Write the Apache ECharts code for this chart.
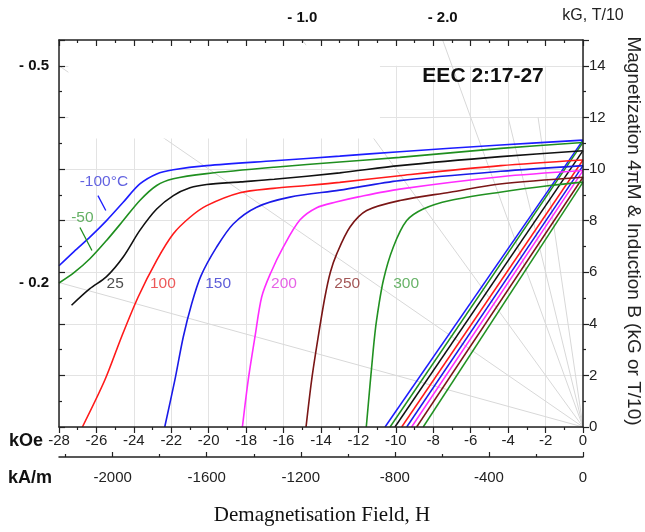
<!DOCTYPE html>
<html><head><meta charset="utf-8">
<script src="https://cdn.jsdelivr.net/npm/echarts@6/dist/echarts.min.js"></script>
<style>html,body{margin:0;padding:0;background:#fff}#c{width:645px;height:532px}</style>
</head><body><div id="c"></div>
<script>
// ---- data (H in kOe, 4piM / B in kG) ----
const temps = ['-100°C', '-50', '25', '100', '150', '200', '250', '300'];
const curveTm100 = [[-28,6.25],[-27.2,6.8],[-26.35,7.36],[-25.46,8.0],[-24.57,8.71],[-23.68,9.42],[-22.78,9.81],[-21.89,9.97],[-20.11,10.13],[-16.5,10.32],[-13,10.5],[-9.8,10.67],[-4.4,10.93],[0,11.12]];
const curveTm50 = [[-28,5.58],[-27.2,5.98],[-26.35,6.52],[-25.46,7.23],[-24.57,8.0],[-23.68,8.78],[-22.78,9.36],[-21.89,9.62],[-20.11,9.82],[-16.5,10.07],[-13,10.27],[-9.8,10.45],[-4.4,10.8],[0,11.03]];
const curveT25 = [[-27.33,4.72],[-26.35,5.36],[-25.46,5.83],[-24.57,6.59],[-23.68,7.62],[-22.78,8.45],[-21.89,8.97],[-21.0,9.27],[-20.11,9.40],[-18.3,9.5],[-16.5,9.6],[-13,9.85],[-9.8,10.13],[-4.4,10.48],[0,10.71]];
const curveT100 = [[-26.75,0],[-25.55,1.82],[-24.66,3.49],[-23.77,5.04],[-22.78,6.46],[-21.89,7.49],[-21.0,8.13],[-20.11,8.58],[-18.33,9.08],[-16.55,9.25],[-14.77,9.36],[-13,9.48],[-9.8,9.74],[-4.4,10.13],[0,10.35]];
const curveT150 = [[-22.35,0],[-21.81,1.82],[-21.36,3.49],[-20.91,4.78],[-20.42,5.85],[-19.58,6.97],[-18.69,7.87],[-17.44,8.52],[-15.66,8.91],[-13,9.18],[-9.8,9.55],[-4.4,9.91],[0,10.13]];
const curveT200 = [[-18.2,0],[-17.89,1.82],[-17.53,3.49],[-17.17,5.04],[-16.7,5.95],[-16.02,6.97],[-15.13,8.02],[-14.23,8.5],[-13.2,8.72],[-12,8.92],[-9.8,9.22],[-4.4,9.7],[0,9.94]];
const curveT250 = [[-14.8,0],[-14.5,1.82],[-14.15,3.49],[-13.8,5.0],[-13.5,6.0],[-13.16,6.71],[-12.45,7.75],[-11.56,8.39],[-9.78,8.78],[-7.11,9.10],[-4.44,9.42],[0,9.68]];
const curveT300 = [[-11.58,0],[-11.21,2.98],[-11.03,4.14],[-10.67,5.68],[-10.14,6.97],[-9.42,8.0],[-8.54,8.45],[-7.11,8.78],[-4.44,9.10],[-1.76,9.36],[0,9.49]];
const intrinsicCurves = [curveTm100, curveTm50, curveT25, curveT100, curveT150, curveT200, curveT250, curveT300];
// normal (B) curves: straight, from B=0 crossing to remanence at H=0
const bZeroH = [-10.58, -10.31, -10.05, -9.69, -9.42, -9.16, -8.89, -8.54];
const remanence = [11.12, 11.03, 10.71, 10.35, 10.13, 9.94, 9.68, 9.49];
// curve label anchor positions (H, kG)
const labelH = [-25.6, -26.75, -25.0, -22.45, -19.5, -15.98, -12.6, -9.45];
const labelB = [9.5, 8.1, 5.57, 5.57, 5.57, 5.57, 5.57, 5.57];
const leaderM100 = [[-25.92, 8.97], [-25.5, 8.39]];
const leaderM50 = [[-26.88, 7.73], [-26.24, 6.84]];
// load lines (-B/H) and the induction (kG) at which each faint line stops
const loadSlopes = [0.2, 0.5, 1.0, 2.0, 3.0, 5.0];
const loadTopB = [15, 15, 15, 15, 12, 12];
const loadLabelsLeft = [0.5, 0.2];
const loadLabelsTop = [1.0, 2.0];
// kA/m scale
const KAM_PER_KOE = 1000 / (4 * Math.PI);
const kAmLabels = [-2000, -1600, -1200, -800, -400, 0];
const kAmMinor = [-2200, -1800, -1400, -1000, -600, -200];

// ---- styles ----
const lineColors = ['#1c1cff', '#1f8f1f', '#111111', '#ff1a1a', '#1a1ae8', '#ff2cff', '#7a1616', '#219121'];
const textColors = ['#3b3bd8', '#3d9d3d', '#222222', '#e83030', '#3434d0', '#e03ce0', '#8c2e2e', '#44a044'];
const FONT = 'Liberation Sans, Arial, sans-serif';
const AX = '#222';

const chart = echarts.init(document.getElementById('c'), null, {renderer: 'canvas'});

function maskRender(params, api) {
  const p0 = api.coord([api.value(0), api.value(1)]);
  const p1 = api.coord([api.value(2), api.value(3)]);
  return {
    type: 'rect',
    shape: {x: Math.min(p0[0], p1[0]), y: Math.min(p0[1], p1[1]),
            width: Math.abs(p1[0] - p0[0]), height: Math.abs(p1[1] - p0[1])},
    style: {fill: '#ffffff'}
  };
}

const series = [];
// mask over grid lines above 14 kG
series.push({type: 'custom', renderItem: maskRender, silent: true, z: 1,
  dimensions: ['x0', 'y0', 'x1', 'y1'], encode: {x: [0, 2], y: [1, 3]},
  data: [[-28, 14, 0, 15]]});
// load lines
loadSlopes.forEach((s, i) => {
  const endH = Math.max(-28, -loadTopB[i] / s);
  series.push({
    type: 'line', silent: true, z: 2, symbol: 'none', animation: false,
    lineStyle: {color: '#d8d8d8', width: 1}, data: [[0, 0], [endH, -endH * s]]
  });
});
// blank box in upper left
series.push({type: 'custom', renderItem: maskRender, silent: true, z: 3,
  dimensions: ['x0', 'y0', 'x1', 'y1'], encode: {x: [0, 2], y: [1, 3]},
  data: [[-27.5, 11.18, -10.85, 14.8]]});
// B lines
bZeroH.forEach((h, i) => series.push({
  type: 'line', z: 4, symbol: 'none', animation: false,
  lineStyle: {color: lineColors[i], width: 1.5}, data: [[h, 0], [0, remanence[i]]]
}));
// intrinsic curves
intrinsicCurves.forEach((c, i) => series.push({
  type: 'line', z: 4, symbol: 'none', animation: false, smooth: 0.3,
  lineStyle: {color: lineColors[i], width: 1.6}, data: c
}));
// leaders
series.push({type: 'line', z: 4, symbol: 'none', animation: false,
  lineStyle: {color: lineColors[0], width: 1.3}, data: leaderM100});
series.push({type: 'line', z: 4, symbol: 'none', animation: false,
  lineStyle: {color: lineColors[1], width: 1.3}, data: leaderM50});
// curve labels
series.push({type: 'scatter', z: 5, symbolSize: 0, animation: false, silent: true,
  data: temps.map((t, i) => ({name: t, value: [labelH[i], labelB[i]],
    label: {color: textColors[i]}})),
  label: {show: true, position: 'inside', formatter: '{b}', fontSize: 15.5, fontFamily: FONT}
});

const tickStyle = {color: AX, width: 1.2};
const option = {
  animation: false,
  backgroundColor: '#ffffff',
  grid: {left: 59, right: 62, top: 40, bottom: 105},
  xAxis: [
    {type: 'value', position: 'bottom', min: -28, max: 0, interval: 2, z: 6,
     axisLine: {onZero: false, lineStyle: {color: AX, width: 1.5}},
     axisTick: {length: 6, lineStyle: tickStyle},
     minorTick: {show: true, splitNumber: 2, length: 3, lineStyle: tickStyle},
     axisLabel: {color: '#222', fontSize: 15, fontFamily: FONT, margin: 6},
     splitLine: {show: false}},
    {type: 'value', position: 'top', min: -28, max: 0, interval: 2, z: 6,
     axisLine: {onZero: false, lineStyle: {color: AX, width: 1.5}},
     axisTick: {inside: true, length: 6, lineStyle: tickStyle},
     minorTick: {show: true, splitNumber: 2, length: 3, lineStyle: tickStyle},
     axisLabel: {show: false}, splitLine: {show: false}},
    {type: 'value', position: 'bottom', offset: 30, min: -28 * KAM_PER_KOE, max: 0, z: 6,
     axisLine: {onZero: false, lineStyle: {color: AX, width: 1.5}},
     axisTick: {inside: true, length: 5, customValues: kAmLabels, lineStyle: tickStyle},
     axisLabel: {customValues: kAmLabels, formatter: v => String(v), color: '#222',
                 fontSize: 15, fontFamily: FONT, margin: 13},
     splitLine: {show: false}},
    {type: 'value', position: 'bottom', offset: 30, min: -28 * KAM_PER_KOE, max: 0, z: 6,
     axisLine: {show: false, onZero: false},
     axisTick: {inside: true, length: 3, customValues: kAmMinor, lineStyle: tickStyle},
     axisLabel: {show: false}, splitLine: {show: false}},
    {type: 'value', position: 'bottom', min: -28, max: 0, interval: 2, z: 0,
     axisLine: {show: false, onZero: false}, axisTick: {show: false}, axisLabel: {show: false},
     splitLine: {show: true, lineStyle: {color: '#e3e3e3', width: 1}}}
  ],
  yAxis: [
    {type: 'value', position: 'right', min: 0, max: 15, interval: 2, z: 6,
     axisLine: {show: true, onZero: false, lineStyle: {color: AX, width: 1.5}},
     axisTick: {show: true, length: 6, lineStyle: tickStyle},
     minorTick: {show: true, splitNumber: 2, length: 3, lineStyle: tickStyle},
     axisLabel: {color: '#222', fontSize: 15, fontFamily: FONT, margin: 6, showMaxLabel: false},
     splitLine: {show: false}},
    {type: 'value', position: 'left', min: 0, max: 15, interval: 2, z: 6,
     axisLine: {show: true, onZero: false, lineStyle: {color: AX, width: 1.5}},
     axisTick: {show: true, inside: true, length: 6, lineStyle: tickStyle},
     minorTick: {show: true, splitNumber: 2, length: 3, lineStyle: tickStyle},
     axisLabel: {show: false}, splitLine: {show: false}},
    {type: 'value', position: 'right', min: 0, max: 15, interval: 2, z: 0,
     axisLine: {show: false, onZero: false}, axisTick: {show: false}, axisLabel: {show: false},
     splitLine: {show: true, lineStyle: {color: '#e3e3e3', width: 1}}}
  ],
  series: series
};
chart.setOption(option);

// annotations
const toPx = p => chart.convertToPixel({xAxisIndex: 0, yAxisIndex: 0}, p);
const boldTxt = {fontFamily: FONT, fontWeight: 'bold', fontSize: 15, fill: '#111'};
const graphics = [];
loadLabelsLeft.forEach((s, i) => {
  const p = toPx([-28, 28 * s]);
  graphics.push({type: 'text', id: 'll' + i, x: p[0] - 10, y: p[1], z: 10,
    style: Object.assign({text: '- ' + s.toFixed(1), align: 'right', verticalAlign: 'middle'}, boldTxt)});
});
loadLabelsTop.forEach((s, i) => {
  const p = toPx([-15 / s, 15]);
  graphics.push({type: 'text', id: 'lt' + i, x: p[0], y: 18, z: 10,
    style: Object.assign({text: '- ' + s.toFixed(1), align: 'center', verticalAlign: 'middle'}, boldTxt)});
});
const eec = toPx([-5.34, 13.6]);
graphics.push({type: 'text', x: eec[0], y: eec[1], z: 10,
  style: {text: 'EEC 2:17-27', fontFamily: FONT, fontWeight: 'bold', fontSize: 21, fill: '#111',
          align: 'center', verticalAlign: 'middle'}});
graphics.push({type: 'text', x: 593, y: 16, z: 10,
  style: {text: 'kG, T/10', fontFamily: FONT, fontSize: 16, fill: '#222', align: 'center', verticalAlign: 'middle'}});
graphics.push({type: 'text', x: 633, y: 231, rotation: -Math.PI / 2, z: 10,
  style: {text: 'Magnetization 4πM & Induction B (kG or T/10)', fontFamily: FONT, fontSize: 19,
          fill: '#222', align: 'center', verticalAlign: 'middle'}});
graphics.push({type: 'text', x: 26, y: 441, z: 10,
  style: {text: 'kOe', fontFamily: FONT, fontWeight: 'bold', fontSize: 18, fill: '#111', align: 'center', verticalAlign: 'middle'}});
graphics.push({type: 'text', x: 30, y: 478, z: 10,
  style: {text: 'kA/m', fontFamily: FONT, fontWeight: 'bold', fontSize: 18, fill: '#111', align: 'center', verticalAlign: 'middle'}});
graphics.push({type: 'text', x: 322, y: 515, z: 10,
  style: {text: 'Demagnetisation Field, H', fontFamily: 'Liberation Serif, Times New Roman, serif', fontSize: 21,
          fill: '#111', align: 'center', verticalAlign: 'middle'}});
chart.setOption({graphic: graphics});
</script>
</body></html>
